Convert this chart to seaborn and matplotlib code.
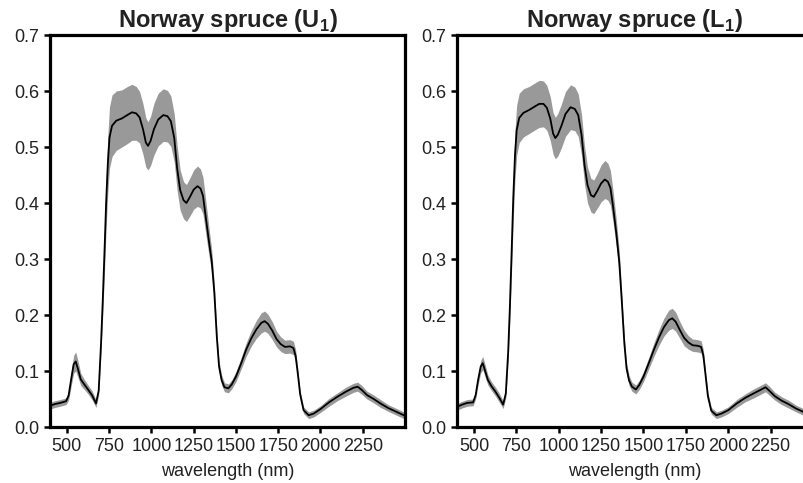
import numpy as np
import pandas as pd
import matplotlib
matplotlib.use("Agg")
import matplotlib.pyplot as plt
import seaborn as sns

# Wavelength grid (nm) shared by both spectra
wavelength = [400, 430, 460, 495, 510, 525, 540, 552, 565, 582, 603, 625, 650, 672, 688,
              702, 712, 722, 732, 742, 752, 767, 792, 825, 857, 885, 910, 930, 950, 967,
              980, 995, 1015, 1040, 1070, 1095, 1115, 1135, 1152, 1170, 1190, 1207, 1228,
              1250, 1272, 1290, 1305, 1320, 1340, 1357, 1372, 1387, 1400, 1415, 1432, 1455,
              1475, 1500, 1530, 1560, 1590, 1620, 1650, 1670, 1690, 1715, 1740, 1765, 1790,
              1820, 1840, 1853, 1866, 1880, 1900, 1930, 1960, 2000, 2050, 2100, 2150, 2195,
              2220, 2245, 2275, 2315, 2355, 2400, 2450, 2500]

# Upper crown (U1): mean reflectance and standard deviation
mean_u1 = [.038, .041, .043, .046, .056, .085, .112, .117, .104, .085, .076, .067, .056, .042, .065,
           .150, .225, .310, .400, .470, .517, .538, .547, .551, .557, .562, .560, .553, .532, .508,
           .502, .511, .532, .549, .557, .555, .546, .516, .462, .423, .405, .400, .411,
           .424, .430, .426, .413, .378, .332, .295, .240, .160, .108, .084, .071, .069,
           .076, .090, .113, .138, .158, .174, .186, .189, .184, .172, .157, .148, .143,
           .144, .141, .127, .095, .058, .030, .021, .024, .032, .044, .054, .063, .070,
           .072, .066, .057, .050, .042, .034, .027, .020]
sd_u1 = [.006, .006, .006, .006, .008, .012, .016, .017, .015, .011, .009, .008, .008, .007, .008,
         .015, .025, .035, .045, .050, .055, .055, .053, .051, .051, .050, .048, .046, .045, .044,
         .043, .044, .046, .047, .047, .046, .045, .043, .040, .036, .033, .033, .034,
         .035, .036, .035, .033, .030, .025, .020, .016, .012, .010, .009, .008, .008,
         .008, .009, .010, .012, .014, .016, .018, .018, .017, .016, .014, .013, .012,
         .012, .012, .011, .009, .007, .006, .006, .006, .006, .007, .007, .008, .008,
         .008, .008, .007, .007, .007, .006, .006, .006]

# Lower crown (L1): mean reflectance and standard deviation
mean_l1 = [.036, .040, .043, .044, .057, .085, .108, .114, .101, .084, .073, .064, .052, .040, .060,
           .135, .215, .310, .410, .485, .530, .552, .561, .566, .572, .577, .577, .570, .551, .524,
           .516, .522, .537, .559, .571, .568, .557, .521, .468, .432, .414, .411, .422,
           .435, .442, .438, .427, .395, .345, .295, .225, .150, .105, .083, .072, .067,
           .075, .090, .113, .137, .159, .178, .191, .194, .188, .173, .159, .151, .146,
           .145, .143, .128, .093, .055, .029, .021, .024, .030, .042, .052, .060, .067,
           .071, .064, .055, .047, .041, .033, .026, .020]
sd_l1 = [.006, .006, .006, .006, .007, .009, .011, .012, .011, .009, .008, .008, .008, .007, .008,
         .015, .022, .030, .038, .043, .045, .044, .043, .042, .042, .042, .041, .040, .039, .037,
         .037, .038, .039, .040, .040, .039, .038, .036, .034, .032, .030, .030, .031,
         .033, .034, .033, .031, .028, .024, .020, .015, .012, .010, .009, .008, .008,
         .008, .009, .010, .012, .014, .016, .018, .018, .017, .015, .014, .012, .011,
         .011, .011, .010, .008, .007, .006, .006, .006, .006, .007, .007, .008, .008,
         .008, .008, .007, .007, .007, .006, .006, .006]

titles = [r"Norway spruce (U$_\mathbf{1}$)", r"Norway spruce (L$_\mathbf{1}$)"]
x_ticks = [500, 750, 1000, 1250, 1500, 1750, 2000, 2250]
y_ticks = [0.0, 0.1, 0.2, 0.3, 0.4, 0.5, 0.6, 0.7]

sns.set_style("ticks")
plt.rcParams["font.family"] = ["Liberation Sans", "DejaVu Sans"]
plt.rcParams["mathtext.fontset"] = "custom"
plt.rcParams["mathtext.bf"] = "Liberation Sans:bold"
plt.rcParams["mathtext.rm"] = "Liberation Sans"

fig = plt.figure(figsize=(8.04, 4.83), dpi=100)
W, H = 804, 483
positions = [
    [50 / W, (H - 427) / H, 355 / W, 392 / H],
    [457 / W, (H - 427) / H, 356 / W, 392 / H],
]

text_color = "#222222"
band_color = "#999999"

for pos, title, mean, sd in zip(positions, titles, [mean_u1, mean_l1], [sd_u1, sd_l1]):
    assert len(mean) == len(wavelength) == len(sd)
    ax = fig.add_axes(pos)
    df = pd.DataFrame({"wavelength": wavelength, "mean": mean, "sd": sd})
    ax.fill_between(df["wavelength"], df["mean"] - df["sd"], df["mean"] + df["sd"],
                    color=band_color, linewidth=0, zorder=1)
    sns.lineplot(data=df, x="wavelength", y="mean", ax=ax, color="black",
                 linewidth=1.3, errorbar=None, zorder=2)
    ax.set_xlim(400, 2500)
    ax.set_ylim(0, 0.7)
    ax.set_xticks(x_ticks)
    ax.set_yticks(y_ticks)
    ax.set_yticklabels([f"{v:.1f}" for v in y_ticks])
    ax.set_xlabel("wavelength (nm)", fontsize=13, color=text_color, labelpad=6)
    ax.set_ylabel("")
    ax.set_title(title, fontsize=17, fontweight="bold", color=text_color, pad=6)
    for side in ["left", "right", "top", "bottom"]:
        ax.spines[side].set_visible(True)
        ax.spines[side].set_linewidth(2.3)
        ax.spines[side].set_color("black")
    ax.tick_params(axis="both", direction="out", length=4, width=1.8, color="black",
                   labelsize=13, labelcolor=text_color, pad=4)

fig.savefig("out.png", dpi=100)
